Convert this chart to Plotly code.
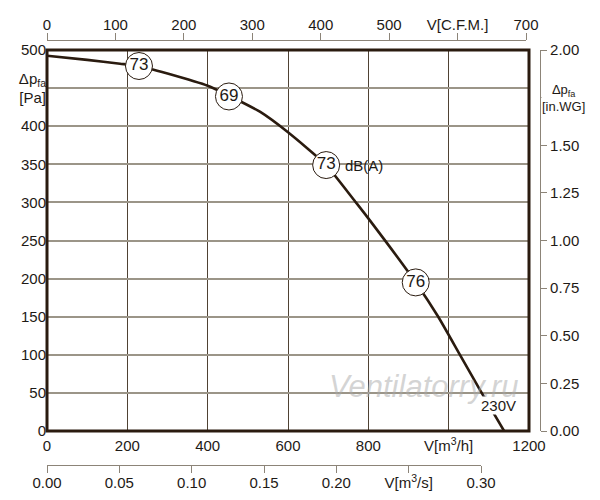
import plotly.graph_objects as go

# === DADOS ===
# curva pressão x vazão (230V)
vazao_m3h = [0, 100, 182, 229, 300, 400, 453, 530, 600, 695, 769, 800, 918, 974, 1026, 1080, 1138]
pressao_pa = [492.5, 487, 482, 479, 469, 453, 440, 419, 392, 349, 300, 279, 195, 150, 102, 52, 0]

# pontos de ruído dB(A) sobre a curva
ruido_vazao = [229, 453, 695, 918]
ruido_pressao = [479, 439, 349, 195]
ruido_db = ["73", "69", "73", "76"]

# eixos
x_ticks = [0, 200, 400, 600, 800, 1000, 1200]
x_ticktext = ["0", "200", "400", "600", "800", "V[m<sup>3</sup>/h]", "1200"]
y_ticks = [0, 50, 100, 150, 200, 250, 300, 350, 400, 450, 500]
y_ticktext = ["0", "50", "100", "150", "200", "250", "300", "350", "400",
              "Δp<sub>fa</sub><br>[Pa]", "500"]
cfm_ticks = [0, 100, 200, 300, 400, 500, 600, 700]
cfm_ticktext = ["0", "100", "200", "300", "400", "500", "V[C.F.M.]", "700"]
m3s_ticks = [0, 0.05, 0.10, 0.15, 0.20, 0.25, 0.30]
m3s_ticktext = ["0.00", "0.05", "0.10", "0.15", "0.20", "V[m<sup>3</sup>/s]", "0.30"]
inwg_ticks = [0, 0.25, 0.5, 0.75, 1.0, 1.25, 1.5, 1.75, 2.0]
inwg_ticktext = ["0.00", "0.25", "0.50", "0.75", "1.00", "1.25", "1.50", " ", "2.00"]

ESCURO = "#2a1b0f"
CINZA = "#8c8478"
FONTE = dict(family="Liberation Sans, Arial, sans-serif", size=15, color="#1e1a16")

# dominio (px -> fração do papel): papel x 47..540, y 40..465 (a página tem 8px de margem)
x_dom = [0, 482 / 493]
y_dom = [34 / 425, 415 / 425]

fig = go.Figure()

# curva principal
fig.add_trace(go.Scatter(x=vazao_m3h, y=pressao_pa, mode='lines',
                         line=dict(color=ESCURO, width=2.6, shape='spline', smoothing=0.5),
                         hoverinfo='skip', showlegend=False))

# círculos de ruído
fig.add_trace(go.Scatter(x=ruido_vazao, y=ruido_pressao, mode='markers+text',
                         text=ruido_db, textposition='middle center',
                         textfont=dict(family=FONTE["family"], size=17, color="#1e1a16"),
                         marker=dict(size=27, color='white', line=dict(color=ESCURO, width=1)),
                         showlegend=False))

# traços vazios para os eixos auxiliares
fig.add_trace(go.Scatter(x=[], y=[], xaxis='x2', yaxis='y3', showlegend=False))
fig.add_trace(go.Scatter(x=[], y=[], xaxis='x3', yaxis='y3', showlegend=False))
fig.add_trace(go.Scatter(x=[], y=[], xaxis='x', yaxis='y2', showlegend=False))

fig.update_layout(
    width=600, height=500,
    margin=dict(l=39, r=68, t=32, b=43),
    plot_bgcolor='rgba(0,0,0,0)', paper_bgcolor='white',
    font=FONTE,
    xaxis=dict(domain=x_dom, range=[0, 1200], tickvals=x_ticks, ticktext=x_ticktext,
               ticks='', showline=False, zeroline=False, automargin=False, ticklabelstandoff=4,
               showgrid=True, gridcolor='#4f4234', gridwidth=1.3),
    yaxis=dict(domain=y_dom, range=[0, 500], tickvals=y_ticks, ticktext=y_ticktext,
               ticks='', showline=False, zeroline=False, automargin=False,
               showgrid=True, gridcolor='#9b9588', gridwidth=1.5),
    yaxis2=dict(overlaying='y', anchor='free', position=1, side='right', automargin=False,
                range=[0, 2.0], tickvals=inwg_ticks, ticktext=inwg_ticktext,
                showgrid=False, zeroline=False, showline=True, linecolor=CINZA, linewidth=1.2,
                ticks='outside', ticklen=6, tickcolor=CINZA, tickwidth=1.2),
    xaxis2=dict(domain=[0, 479 / 493], anchor='free', position=1, side='top', automargin=False,
                range=[0, 700], tickvals=cfm_ticks, ticktext=cfm_ticktext, ticklabelstandoff=-3,
                showgrid=False, zeroline=False, showline=True, linecolor=CINZA, linewidth=1.2,
                ticks='outside', ticklen=7, tickcolor=CINZA, tickwidth=1.2),
    xaxis3=dict(domain=[0, 434 / 493], anchor='free', position=0, side='bottom', automargin=False,
                range=[0, 0.30], tickvals=m3s_ticks, ticktext=m3s_ticktext, ticklabelstandoff=-3,
                showgrid=False, zeroline=False, showline=True, linecolor=CINZA, linewidth=1.2,
                ticks='outside', ticklen=7, tickcolor=CINZA, tickwidth=1.2),
    yaxis3=dict(domain=y_dom, range=[0, 1], visible=False),
)

# moldura
fig.add_shape(type='rect', xref='x domain', yref='y domain', x0=0, x1=1, y0=0, y1=1,
              line=dict(color=ESCURO, width=3))

# textos
fig.add_annotation(x=789, y=349, text="dB(A)", showarrow=False, xanchor='center',
                   font=dict(size=15))
fig.add_annotation(x=1123, y=34, text="230V", showarrow=False, xanchor='center',
                   bgcolor='white', borderpad=0, font=dict(size=15))
fig.add_annotation(xref='paper', x=494 / 493, yref='y2', y=1.75, xanchor='left',
                   text="Δp<sub>fa</sub><br>[in.WG]", showarrow=False, align='center',
                   font=dict(size=13), bgcolor='white', borderpad=0)
fig.add_annotation(x=939, y=58, text="Ventilatorry.ru", showarrow=False,
                   font=dict(size=31, color='rgba(170,170,170,0.5)', style='italic'))

fig.write_html("out.html")
